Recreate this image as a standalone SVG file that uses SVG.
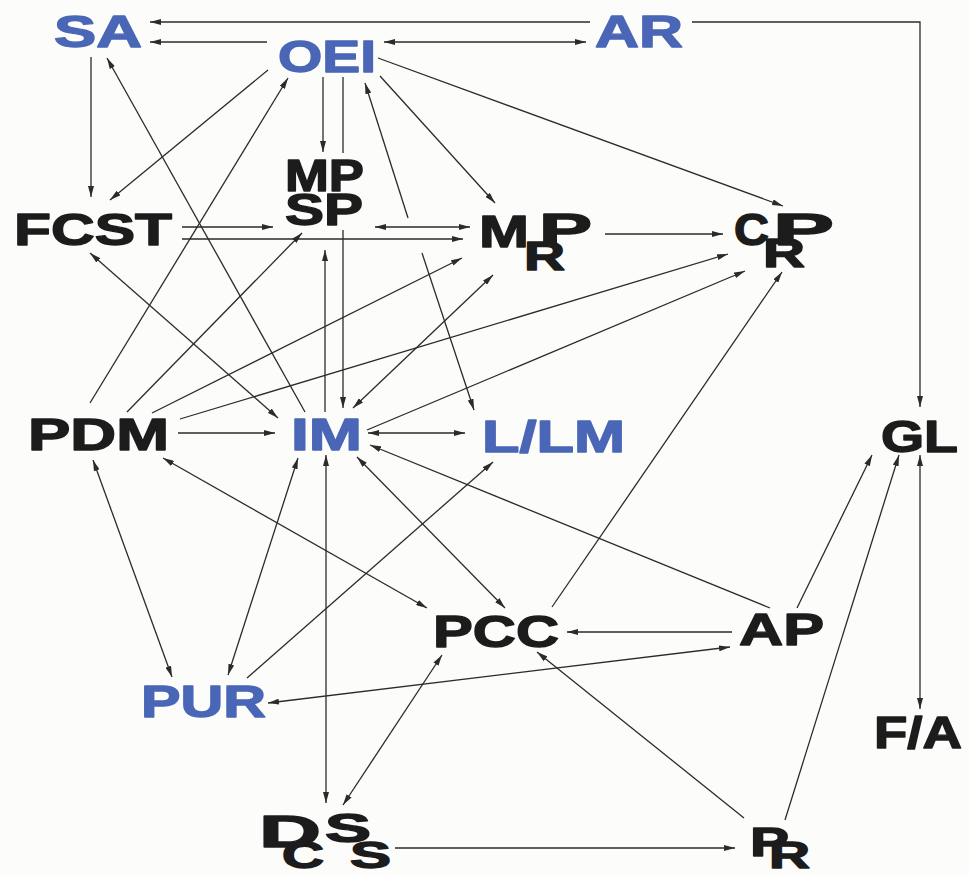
<svg xmlns="http://www.w3.org/2000/svg" width="969" height="876" viewBox="0 0 969 876">
<style>
.t{font-family:"Liberation Sans",Arial,sans-serif;font-weight:bold;font-size:45px;stroke-width:1.4;stroke-linejoin:round;}
.b{fill:#4a66b6;stroke:#4a66b6;}
.k{fill:#1c1c1c;stroke:#1c1c1c;}
.c path{fill:none;stroke:#2b2b2b;stroke-width:1.3;}
.e{marker-end:url(#a);}
.s{marker-start:url(#a);}
</style>
<defs>
<marker id="a" markerUnits="userSpaceOnUse" markerWidth="11" markerHeight="6" refX="11" refY="3" orient="auto-start-reverse">
<path d="M0,0 L11,3 L0,6 z" fill="#2b2b2b"/>
</marker>
</defs>
<rect width="969" height="876" fill="#fcfcfa"/>
<g id="connectors" class="c">
<path class="e" d="M590,22 H150"/>
<path class="e" d="M692,22 H920 V407"/>
<path class="e" d="M267,42 H150"/>
<path class="e s" d="M384,42 H586"/>
<path class="e" d="M91,57 V197"/>
<path class="e" d="M305,412 L107,58"/>
<path class="e" d="M268,70 L110,200"/>
<path class="e" d="M90,403 L288,78"/>
<path class="e" d="M323,77 V152"/>
<path d="M343,77 V153"/>
<path class="e" d="M343,230 V408"/>
<path class="e" d="M325,412 V250"/>
<path class="s" d="M365,83 L408,218"/>
<path class="e" d="M422,253 L474,410"/>
<path class="e" d="M380,76 L495,203"/>
<path class="e" d="M378,58 L783,206"/>
<path class="e" d="M182,227 H273"/>
<path class="e" d="M182,239 H463"/>
<path class="e s" d="M375,227 H470"/>
<path class="e" d="M605,234 H723"/>
<path class="e" d="M127,412 L302,233"/>
<path class="e" d="M152,413 L462,258"/>
<path class="e" d="M180,419 L728,254"/>
<path class="e" d="M367,430 L745,271"/>
<path class="e s" d="M353,408 L493,275"/>
<path class="e s" d="M90,253 L278,418"/>
<path class="e" d="M178,433 H275"/>
<path class="e s" d="M368,433 H465"/>
<path class="e" d="M770,608 L370,445"/>
<path class="e s" d="M357,457 L505,608"/>
<path class="e s" d="M163,458 L427,608"/>
<path class="e s" d="M93,460 L172,677"/>
<path class="e s" d="M298,458 L228,675"/>
<path class="e" d="M247,678 L493,462"/>
<path class="e s" d="M326,455 V803"/>
<path class="e s" d="M442,655 L343,805"/>
<path class="e" d="M732,632 H567"/>
<path class="e s" d="M268,703 L730,647"/>
<path class="e" d="M552,607 L782,272"/>
<path class="e" d="M797,608 L872,455"/>
<path class="e" d="M785,820 L899,455"/>
<path class="e" d="M744,818 L537,652"/>
<path class="e" d="M395,848 H735"/>
<path class="e s" d="M920,455 V709"/>
</g>
<g id="SA"><text class="t b" x="54" y="47" textLength="88" lengthAdjust="spacingAndGlyphs">SA</text></g>
<g id="OEI"><text class="t b" x="278" y="72" textLength="98" lengthAdjust="spacingAndGlyphs">OEI</text></g>
<g id="AR"><text class="t b" x="595" y="47" textLength="88" lengthAdjust="spacingAndGlyphs">AR</text></g>
<g id="MPSP"><text class="t k"><tspan x="285" y="191" textLength="79" lengthAdjust="spacingAndGlyphs">MP</tspan><tspan x="285" y="225" textLength="78" lengthAdjust="spacingAndGlyphs">SP</tspan></text></g>
<g id="FCST"><text class="t k" x="14" y="245" textLength="158" lengthAdjust="spacingAndGlyphs">FCST</text></g>
<g id="MRP"><text class="t k"><tspan x="479" y="247" textLength="50" lengthAdjust="spacingAndGlyphs">M</tspan><tspan x="539" y="245" textLength="53" lengthAdjust="spacingAndGlyphs">P</tspan><tspan x="524" y="270" font-size="40" textLength="41" lengthAdjust="spacingAndGlyphs">R</tspan></text></g>
<g id="CRP"><text class="t k"><tspan x="734" y="245" textLength="35" lengthAdjust="spacingAndGlyphs">C</tspan><tspan x="773" y="245" textLength="61" lengthAdjust="spacingAndGlyphs">P</tspan><tspan x="763" y="267" font-size="40" textLength="42" lengthAdjust="spacingAndGlyphs">R</tspan></text></g>
<g id="PDM"><text class="t k" x="28" y="450" textLength="141" lengthAdjust="spacingAndGlyphs">PDM</text></g>
<g id="IM"><text class="t b" x="291" y="450" textLength="71" lengthAdjust="spacingAndGlyphs">IM</text></g>
<g id="LLM"><text class="t b" x="482" y="452" textLength="143" lengthAdjust="spacingAndGlyphs">L/LM</text></g>
<g id="GL"><text class="t k" x="881" y="452" textLength="77" lengthAdjust="spacingAndGlyphs">GL</text></g>
<g id="PCC"><text class="t k" x="433" y="647" textLength="126" lengthAdjust="spacingAndGlyphs">PCC</text></g>
<g id="AP"><text class="t k" x="739" y="645" textLength="85" lengthAdjust="spacingAndGlyphs">AP</text></g>
<g id="PUR"><text class="t b" x="141" y="717" textLength="125" lengthAdjust="spacingAndGlyphs">PUR</text></g>
<g id="FA"><text class="t k" x="874" y="748" textLength="88" lengthAdjust="spacingAndGlyphs">F/A</text></g>
<g id="DCSS"><text class="t k"><tspan x="259" y="847" textLength="62" lengthAdjust="spacingAndGlyphs">D</tspan><tspan x="282" y="868" font-size="36" textLength="42" lengthAdjust="spacingAndGlyphs">C</tspan><tspan x="325" y="842" font-size="40" textLength="46" lengthAdjust="spacingAndGlyphs">S</tspan><tspan x="350" y="868" font-size="37" textLength="41" lengthAdjust="spacingAndGlyphs">S</tspan></text></g>
<g id="PR"><text class="t k"><tspan x="750" y="856" font-size="41" textLength="39" lengthAdjust="spacingAndGlyphs">P</tspan><tspan x="769" y="868" font-size="37" textLength="41" lengthAdjust="spacingAndGlyphs">R</tspan></text></g>
</svg>
